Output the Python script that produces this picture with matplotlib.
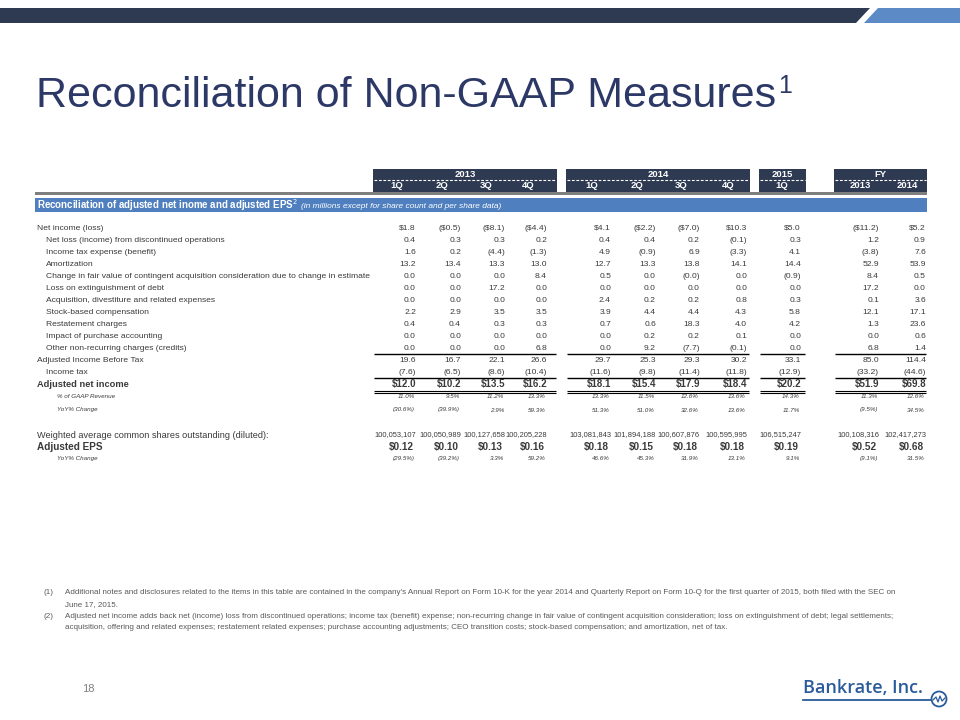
import math
import matplotlib
matplotlib.use("Agg")
import matplotlib.pyplot as plt
from matplotlib.patches import Polygon, Rectangle, Circle

plt.rcParams['font.family'] = ['Liberation Sans', 'DejaVu Sans']

# ---------------- data ----------------
years = ["2013", "2014", "2015", "FY"]
quarters = ["1Q", "2Q", "3Q", "4Q", "1Q", "2Q", "3Q", "4Q", "1Q", "2013", "2014"]

row_labels = [
    "Net income (loss)",
    "Net loss (income) from discontinued operations",
    "Income tax expense (benefit)",
    "Amortization",
    "Change in fair value of contingent acquisition consideration due to change in estimate",
    "Loss on extinguishment of debt",
    "Acquisition, divestiture and related expenses",
    "Stock-based compensation",
    "Restatement charges",
    "Impact of purchase accounting",
    "Other non-recurring charges (credits)",
    "Adjusted Income Before Tax",
    "Income tax",
]
net_income = [1.8, -0.5, -8.1, -4.4, 4.1, -2.2, -7.0, 10.3, 5.0, -11.2, 5.2]
disc_ops = [0.4, 0.3, 0.3, 0.2, 0.4, 0.4, 0.2, -0.1, 0.3, 1.2, 0.9]
income_tax_exp = [1.6, 0.2, -4.4, -1.3, 4.9, -0.9, 6.9, -3.3, 4.1, -3.8, 7.6]
amortization = [13.2, 13.4, 13.3, 13.0, 12.7, 13.3, 13.8, 14.1, 14.4, 52.9, 53.9]
fair_value_change = [0.0, 0.0, 0.0, 8.4, 0.5, 0.0, -0.0, 0.0, -0.9, 8.4, 0.5]
debt_extinguish = [0.0, 0.0, 17.2, 0.0, 0.0, 0.0, 0.0, 0.0, 0.0, 17.2, 0.0]
acquisition = [0.0, 0.0, 0.0, 0.0, 2.4, 0.2, 0.2, 0.8, 0.3, 0.1, 3.6]
stock_comp = [2.2, 2.9, 3.5, 3.5, 3.9, 4.4, 4.4, 4.3, 5.8, 12.1, 17.1]
restatement = [0.4, 0.4, 0.3, 0.3, 0.7, 0.6, 18.3, 4.0, 4.2, 1.3, 23.6]
purchase_acct = [0.0, 0.0, 0.0, 0.0, 0.0, 0.2, 0.2, 0.1, 0.0, 0.0, 0.6]
other_nonrec = [0.0, 0.0, 0.0, 6.8, 0.0, 9.2, -7.7, -0.1, 0.0, 6.8, 1.4]
adj_income_before_tax = [19.6, 16.7, 22.1, 26.6, 29.7, 25.3, 29.3, 30.2, 33.1, 85.0, 114.4]
income_tax = [-7.6, -6.5, -8.6, -10.4, -11.6, -9.8, -11.4, -11.8, -12.9, -33.2, -44.6]
adj_net_income = [12.0, 10.2, 13.5, 16.2, 18.1, 15.4, 17.9, 18.4, 20.2, 51.9, 69.8]
pct_gaap_revenue = [11.0, 9.5, 11.2, 13.3, 13.3, 11.5, 12.6, 13.6, 14.3, 11.3, 12.6]
ni_yoy = [-30.6, -39.9, 2.9, 59.3, 51.3, 51.0, 32.6, 13.6, 11.7, -9.5, 34.5]
diluted_shares = [100053107, 100050989, 100127658, 100205228, 103081843, 101894188,
                  100607876, 100595995, 106515247, 100108316, 102417273]
adj_eps = [0.12, 0.10, 0.13, 0.16, 0.18, 0.15, 0.18, 0.18, 0.19, 0.52, 0.68]
eps_yoy = [-29.5, -39.2, 3.3, 59.2, 46.6, 45.3, 31.9, 13.1, 9.1, -9.1, 31.5]

footnote1 = ("Additional notes and disclosures related to the items in this table are contained in the company's Annual Report on Form 10-K for the year 2014 and Quarterly Report on Form 10-Q for the first quarter of 2015, both filed with the SEC on",
             "June 17, 2015.")
footnote2 = ("Adjusted net income adds back net (income) loss from discontinued operations; income tax (benefit) expense; non-recurring change in fair value of contingent acquisition consideration; loss on extinguishment of debt; legal settlements;",
             "acquisition, offering and related expenses; restatement related expenses; purchase accounting adjustments; CEO transition costs; stock-based compensation; and amortization, net of tax.")

# ---------------- layout ----------------
NAVY = '#2E3A52'
LBLUE = '#5B8AC6'
BAND = '#4F7FBF'
TXT = '#3A3A3A'
TITLE = '#2C3866'

col_right = [416, 461, 505, 547, 611, 656, 700, 747, 801, 879, 926]
groups = [(0, 4, 373, 557), (4, 8, 566, 750), (8, 9, 759, 806), (9, 11, 834, 927)]


def neg(v):
    return v < 0 or (v == 0 and math.copysign(1, v) < 0)


def fmt(v, dollar=False, dec=1):
    s = f"{abs(v):.{dec}f}"
    if dollar:
        s = "$" + s
    return f"({s})" if neg(v) else s


def fmt_pct(v):
    s = f"{abs(v):.1f}%"
    return f"({s})" if neg(v) else s


fig = plt.figure(figsize=(9.6, 7.2), dpi=100)
ax = fig.add_axes([0, 0, 1, 1])
ax.set_xlim(0, 960)
ax.set_ylim(720, 0)
ax.axis('off')
renderer = fig.canvas.get_renderer()

# top bars
ax.add_patch(Polygon([[0, 8], [870, 8], [856, 23], [0, 23]], closed=True, color=NAVY, lw=0))
ax.add_patch(Polygon([[878, 8], [960, 8], [960, 23], [864, 23]], closed=True, color=LBLUE, lw=0))

# title
t = ax.text(36, 96, "Reconciliation of Non-GAAP Measures", fontsize=31, color=TITLE,
            va='center', ha='left')
bb = t.get_window_extent(renderer)
x_end = bb.x1  # pixels == data x (axes fills figure)
ax.text(x_end + 2, 86, "1", fontsize=18, color=TITLE, va='center', ha='left')

# header boxes
for gi, (a, b, x0, x1) in enumerate(groups):
    ax.add_patch(Rectangle((x0, 169), x1 - x0, 23, color=NAVY, lw=0))
    ax.plot([x0 + 1, x1 - 1], [179.5, 179.5], color='white', lw=0.8, ls=(0, (2.5, 1.5)))
    ax.text((x0 + x1) / 2, 174.5, years[gi], color='white', fontsize=6.8, fontweight='bold',
            ha='center', va='center')
    for c in range(a, b):
        ax.text(col_right[c] - 19, 186, quarters[c], color='white', fontsize=6.8,
                fontweight='bold', ha='center', va='center')

# gray rule and blue band
ax.add_patch(Rectangle((35, 192), 892, 3, color='#7F7F7F', lw=0))
ax.add_patch(Rectangle((35, 198), 892, 14, color=BAND, lw=0))
bt = ax.text(37, 205.5, "Reconciliation of adjusted net inome and adjusted EPS$^{2}$",
             color='white', fontsize=7.0, fontweight='bold', va='center', ha='left')
bx = bt.get_window_extent(renderer).x1
ax.text(bx + 3, 206, "(in millions except for share count and per share data)", color='white',
        fontsize=6.0, style='italic', va='center', ha='left')

# body rows
rows = [net_income, disc_ops, income_tax_exp, amortization, fair_value_change, debt_extinguish,
        acquisition, stock_comp, restatement, purchase_acct, other_nonrec,
        adj_income_before_tax, income_tax]
indent = [37, 46, 46, 46, 46, 46, 46, 46, 46, 46, 46, 37, 46]
y0, dy = 228, 12.0
row_y = [y0 + i * dy for i in range(len(rows))]
FS = 6.1
for i, (lab, vals) in enumerate(zip(row_labels, rows)):
    y = row_y[i]
    ax.text(indent[i], y, lab, fontsize=FS, color=TXT, va='center', ha='left')
    for c, v in enumerate(vals):
        s = fmt(v, dollar=(i == 0))
        ax.text(col_right[c], y, s, fontsize=FS, color=TXT, va='center', ha='right')


def group_lines(y, lw=1.0):
    for (a, b, x0, x1) in groups:
        ax.plot([x0 + 1, x1 - 1], [y, y], color='black', lw=lw, solid_capstyle='butt')


group_lines((row_y[10] + row_y[11]) / 2)
group_lines(row_y[12] + 6)

y_ani = row_y[12] + 12.5
ax.text(37, y_ani, "Adjusted net income", fontsize=6.7, fontweight='bold', color=TXT,
        va='center', ha='left')
for c, v in enumerate(adj_net_income):
    ax.text(col_right[c], y_ani, fmt(v, dollar=True), fontsize=7.0, fontweight='bold',
            color=TXT, va='center', ha='right')
group_lines(y_ani + 6.5, lw=0.8)
group_lines(y_ani + 8.5, lw=0.8)

y_pct = y_ani + 12.5
y_yoy = y_pct + 13
ax.text(57, y_pct, "% of GAAP Revenue", fontsize=4.5, style='italic', color=TXT, va='center')
ax.text(57, y_yoy, "YoY% Change", fontsize=4.5, style='italic', color=TXT, va='center')
for c in range(len(col_right)):
    ax.text(col_right[c] - 1, y_pct, fmt_pct(pct_gaap_revenue[c]), fontsize=4.5, style='italic',
            color=TXT, va='center', ha='right')
    ax.text(col_right[c] - 1, y_yoy, fmt_pct(ni_yoy[c]), fontsize=4.5, style='italic',
            color=TXT, va='center', ha='right')

y_sh = y_yoy + 25
y_eps = y_sh + 12
y_eyoy = y_eps + 11.5
ax.text(37, y_sh, "Weighted average common shares outstanding (diluted):", fontsize=6.6,
        color=TXT, va='center')
ax.text(37, y_eps, "Adjusted EPS", fontsize=7.2, fontweight='bold', color=TXT, va='center')
ax.text(57, y_eyoy, "YoY% Change", fontsize=4.5, style='italic', color=TXT, va='center')
for c in range(len(col_right)):
    ax.text(col_right[c], y_sh, f"{diluted_shares[c]:,}", fontsize=5.4, color=TXT,
            va='center', ha='right')
    ax.text(col_right[c] - 2, y_eps, f"${adj_eps[c]:.2f}", fontsize=7.2, fontweight='bold',
            color=TXT, va='center', ha='right')
    ax.text(col_right[c] - 1, y_eyoy, fmt_pct(eps_yoy[c]), fontsize=4.5, style='italic',
            color=TXT, va='center', ha='right')

# footnotes
FN = '#595959'
fy = 593
for k, lines in enumerate([footnote1, footnote2]):
    ax.text(43, fy, f"({k + 1})", fontsize=5.8, color=FN, va='center')
    for ln in lines:
        ax.text(65, fy, ln, fontsize=5.8, color=FN, va='center')
        fy += 11.5

# page number
ax.text(88, 689, "18", fontsize=8, color='#7F7F7F', va='center', ha='center')

# logo
LOGO = '#2A5B9A'
ax.text(803, 688, "Bankrate, Inc.", fontsize=13, color=LOGO, va='center', ha='left',
        fontweight='semibold', family=['Open Sans', 'Liberation Sans'])
ax.plot([803, 931], [699.5, 699.5], color=LOGO, lw=1.3)
ax.add_patch(Circle((939, 699), 7.5, fill=False, ec=LOGO, lw=1.3))
ax.plot([933, 936, 938, 940, 942, 945], [700, 697, 702, 696, 701, 698], color=LOGO, lw=0.9)

fig.savefig("out.png", dpi=100)
